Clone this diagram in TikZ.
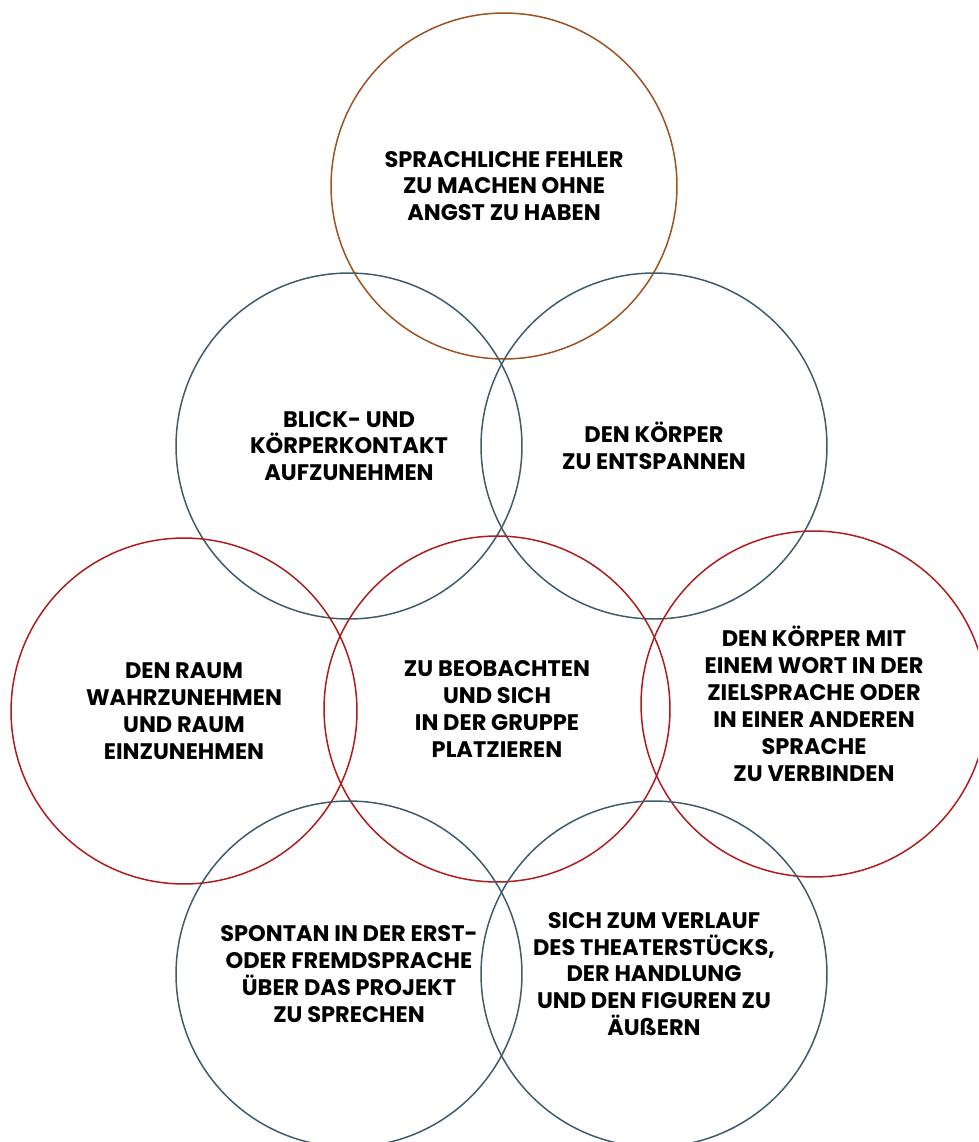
\documentclass[tikz,border=0pt]{standalone}
\usepackage{fontspec}
\setmainfont{Poppins}
\usetikzlibrary{calc}
\usetikzlibrary{positioning}
\definecolor{ringbrown}{HTML}{9C5221}
\definecolor{ringslate}{HTML}{3E5C6B}
\definecolor{ringred}{HTML}{B01C1C}
\tikzstyle{ring} = [draw, circle, line width=0.85pt, minimum size=6.92cm, inner sep=0, align=center, font=\bfseries\fontsize{12.8}{15.3}\selectfont]
\tikzstyle{ringA} = [ring, ringbrown, text=black]
\tikzstyle{ringB} = [ring, ringslate, text=black]
\tikzstyle{ringC} = [ring, ringred, text=black]

\begin{document}
\begin{tikzpicture}[x=0.02cm, y=-0.02cm]
\useasboundingbox (0,0) rectangle (978,1142);
\clip (0,0) rectangle (978,1142);
\node[ringA] (fehler) at (504,186) {SPRACHLICHE FEHLER\\ZU MACHEN OHNE\\ANGST ZU HABEN};
\node[ringB] (blick) at ($(fehler)+(-155,260)$) {BLICK- UND\\KÖRPERKONTAKT\\AUFZUNEHMEN};
\node[ringB] (koerper) at ($(fehler)+(150,260)$) {DEN KÖRPER\\ZU ENTSPANNEN};
\node[ringC] (raum) at ($(blick)+(-165,265)$) {DEN RAUM\\WAHRZUNEHMEN\\UND RAUM\\EINZUNEHMEN};
\node[ringC] (gruppe) at ($(blick)+(148,263)$) {ZU BEOBACHTEN\\UND SICH\\IN DER GRUPPE\\PLATZIEREN};
\node[ringC] (wort) at ($(koerper)+(160,258)$) {DEN KÖRPER MIT\\EINEM WORT IN DER\\ZIELSPRACHE ODER\\IN EINER ANDEREN\\SPRACHE\\ZU VERBINDEN};
\node[ringB] (spontan) at ($(blick)+(0,528)$) {SPONTAN IN DER ERST-\\ODER FREMDSPRACHE\\ÜBER DAS PROJEKT\\ZU SPRECHEN};
\node[ringB] (verlauf) at ($(koerper)+(0,528)$) {SICH ZUM VERLAUF\\DES THEATERSTÜCKS,\\DER HANDLUNG\\UND DEN FIGUREN ZU\\ÄUßERN};
\end{tikzpicture}
\end{document}
